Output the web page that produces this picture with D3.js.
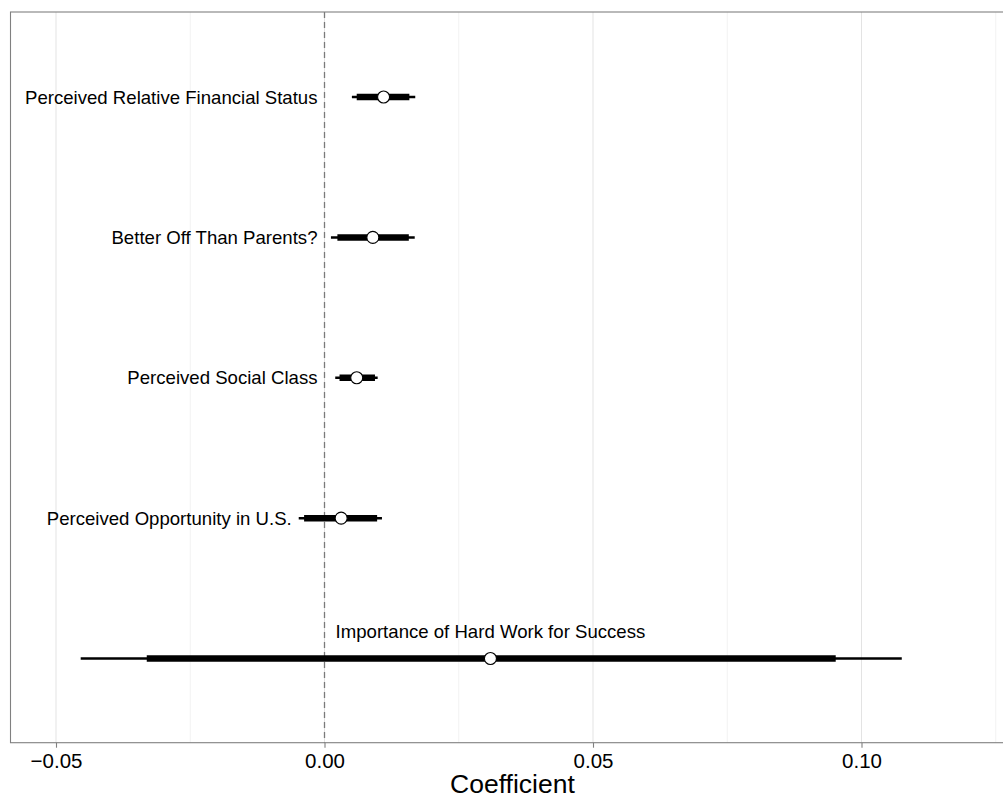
<!DOCTYPE html>
<html>
<head>
<meta charset="utf-8">
<script src="https://cdn.jsdelivr.net/npm/d3@7"></script>
<style>
  body { margin: 0; background: #fff; }
  text { font-family: "Liberation Sans", Arial, sans-serif; }
</style>
</head>
<body>
<svg id="chart" width="1003" height="799"></svg>
<script>
// coefficient estimates, top row first
var terms = ['Perceived Relative Financial Status', 'Better Off Than Parents?', 'Perceived Social Class',
             'Perceived Opportunity in U.S.', 'Importance of Hard Work for Success'];
var estimate = [0.0110, 0.0090, 0.0060, 0.0031, 0.0309];
var innerLo  = [0.0060, 0.0024, 0.0028, -0.0038, -0.0331];
var innerHi  = [0.0158, 0.0157, 0.0094, 0.0098, 0.0952];
var outerLo  = [0.0051, 0.0012, 0.0020, -0.0048, -0.0454];
var outerHi  = [0.0169, 0.0168, 0.0099, 0.0107, 0.1075];
var majorTicks = [-0.05, 0, 0.05, 0.10];
var minorTicks = [-0.025, 0.025, 0.075, 0.125];
var tickLabels = ['\u22120.05', '0.00', '0.05', '0.10'];

var data = terms.map(function(t, i) {
    return {term: t, est: estimate[i], lo: innerLo[i], hi: innerHi[i], lo95: outerLo[i], hi95: outerHi[i]};
});

var panel = {left: 10.5, top: 12, bottom: 742.7, right: 1010};

var x = d3.scaleLinear()
    .domain([-0.05, 0.10])
    .range([56, 861.5]);

var y = d3.scalePoint()
    .domain(terms)
    .range([97, 658.5]);

var svg = d3.select('#chart');

// gridlines
svg.selectAll('.minor')
    .data(minorTicks)
    .enter().append('line')
    .attr('x1', d => x(d)).attr('x2', d => x(d))
    .attr('y1', panel.top).attr('y2', panel.bottom)
    .attr('stroke', '#f2f2f2').attr('stroke-width', 1);

svg.selectAll('.major')
    .data(majorTicks)
    .enter().append('line')
    .attr('x1', d => x(d)).attr('x2', d => x(d))
    .attr('y1', panel.top).attr('y2', panel.bottom)
    .attr('stroke', '#e3e3e3').attr('stroke-width', 1);

// zero reference
svg.append('line')
    .attr('x1', x(0)).attr('x2', x(0))
    .attr('y1', panel.top).attr('y2', panel.bottom)
    .attr('stroke', '#7a7a7a')
    .attr('stroke-width', 1.3)
    .attr('stroke-dasharray', '6,4');

// panel border
svg.append('rect')
    .attr('x', panel.left).attr('y', panel.top)
    .attr('width', panel.right - panel.left).attr('height', panel.bottom - panel.top)
    .attr('fill', 'none')
    .attr('stroke', '#808080')
    .attr('stroke-width', 1.1);

// x axis
var axis = d3.axisBottom(x)
    .tickValues(majorTicks)
    .tickSize(5)
    .tickPadding(6)
    .tickFormat((d, i) => tickLabels[i]);

var gx = svg.append('g')
    .attr('transform', 'translate(0,' + panel.bottom + ')')
    .call(axis);
gx.select('.domain').remove();
gx.selectAll('.tick line').attr('stroke', '#808080').attr('stroke-width', 1.1);
gx.selectAll('.tick text')
    .attr('fill', '#000')
    .style('font-size', '20.5px')
    .style('font-family', '"Liberation Sans", Arial, sans-serif');

svg.append('text')
    .attr('x', x(0.035))
    .attr('y', 793)
    .attr('text-anchor', 'middle')
    .style('font-size', '26.5px')
    .text('Coefficient');

// intervals
var rows = svg.selectAll('.row')
    .data(data)
    .enter().append('g')
    .attr('class', 'row')
    .attr('transform', d => 'translate(0,' + y(d.term) + ')');

rows.append('line')
    .attr('x1', d => x(d.lo95)).attr('x2', d => x(d.hi95))
    .attr('stroke', '#000').attr('stroke-width', 2.5);

rows.append('line')
    .attr('x1', d => x(d.lo)).attr('x2', d => x(d.hi))
    .attr('stroke', '#000').attr('stroke-width', 6.5);

rows.append('circle')
    .attr('cx', d => x(d.est))
    .attr('r', 6)
    .attr('fill', '#fff')
    .attr('stroke', '#000')
    .attr('stroke-width', 1.1);

// labels: left of the interval, or above the point when there is no room
rows.append('text')
    .style('font-size', '18.6px')
    .text(d => d.term)
    .each(function(d) {
        var t = d3.select(this);
        var w = this.getComputedTextLength();
        var end = x(Math.min(d.lo95, 0)) - 7;
        if (end - w < panel.left + 5) {
            t.attr('x', x(d.est)).attr('y', -21).attr('text-anchor', 'middle');
        } else {
            t.attr('x', end).attr('y', 6.5).attr('text-anchor', 'end');
        }
    });
</script>
</body>
</html>
